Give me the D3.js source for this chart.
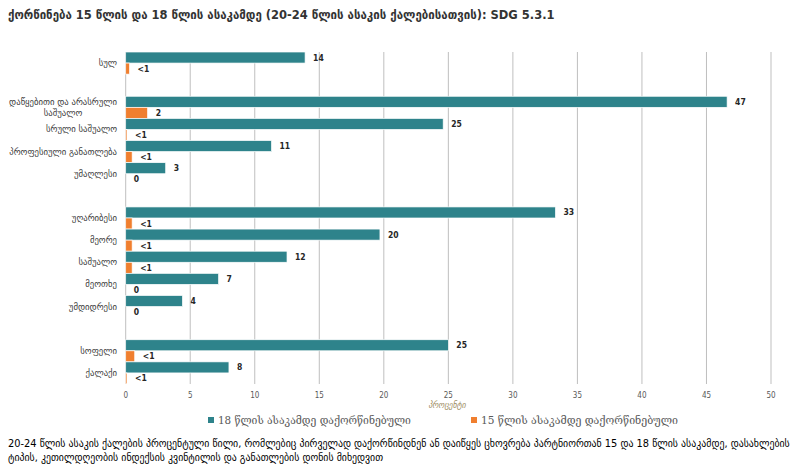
<!DOCTYPE html>
<html>
<head>
<meta charset="utf-8">
<script src="https://cdn.jsdelivr.net/npm/d3@7"></script>
<style>
  body { margin: 0; background: #fff; }
  svg { display: block; }
</style>
</head>
<body>
<script>
// data
const categories = ['სულ', '', 'დაწყებითი და არასრული|საშუალო', 'სრული საშუალო', 'პროფესიული განათლება', 'უმაღლესი', '',
  'უღარიბესი', 'მეორე', 'საშუალო', 'მეოთხე', 'უმდიდრესი', '', 'სოფელი', 'ქალაქი']
const married18 = [13.9, null, 46.6, 24.6, 11.3, 3.1, null, 33.3, 19.7, 12.5, 7.2, 4.4, null, 25.0, 8.0]
const married15 = [0.3, null, 1.7, 0.1, 0.5, 0, null, 0.5, 0.5, 0.5, 0, 0, null, 0.7, 0.1]
const labels18 = ['14', '', '47', '25', '11', '3', '', '33', '20', '12', '7', '4', '', '25', '8']
const labels15 = ['<1', '', '2', '<1', '<1', '0', '', '<1', '<1', '<1', '0', '0', '', '<1', '<1']
const xTicks = [0, 5, 10, 15, 20, 25, 30, 35, 40, 45, 50]
const seriesNames = ['18 წლის ასაკამდე დაქორწინებული', '15 წლის ასაკამდე დაქორწინებული']

const title = 'ქორწინება 15 წლის და 18 წლის ასაკამდე (20-24 წლის ასაკის ქალებისათვის): SDG 5.3.1'
const note = ['20-24 წლის ასაკის ქალების პროცენტული წილი, რომლებიც პირველად დაქორწინდნენ ან დაიწყეს ცხოვრება პარტნიორთან 15 და 18 წლის ასაკამდე, დასახლების',
  'ტიპის, კეთილდღეობის ინდექსის კვინტილის და განათლების დონის მიხედვით']

let w = 800
let h = 468
let teal = '#2e838b'
let orange = '#f07f2f'
let font = 'DejaVu Sans Condensed, DejaVu Sans, sans-serif'

let svg = d3.select('body').append('svg').attr('width', w).attr('height', h)

// shrink/grow a text so it spans a given width
function fit(sel, target) {
  let node = sel.node()
  let fs = parseFloat(sel.attr('font-size'))
  let len = node.getComputedTextLength()
  if (len > 0) sel.attr('font-size', (fs * target / len).toFixed(2))
}

let x = d3.scaleLinear().domain([0, 50]).range([125.7, 771])
let y = d3.scaleBand().domain(d3.range(categories.length)).range([52, 384]).padding(0)
let sub = d3.scaleBand().domain([0, 1]).range([0, y.bandwidth()])

// gridlines
svg.append('g').selectAll('line')
  .data(xTicks)
  .enter()
  .append('line')
  .attr('x1', d => x(d)).attr('x2', d => x(d))
  .attr('y1', 52).attr('y2', 384)
  .attr('stroke', '#bfbfbf').attr('stroke-width', 1)

// tick labels
svg.append('g').selectAll('text')
  .data(xTicks)
  .enter()
  .append('text')
  .attr('x', d => x(d)).attr('y', 398)
  .attr('text-anchor', 'middle')
  .attr('font-family', font).attr('font-size', 8).attr('fill', '#595959')
  .text(d => d)

svg.append('text').attr('x', 447).attr('y', 408).attr('text-anchor', 'middle')
  .attr('font-family', font).attr('font-size', 8.5).attr('font-style', 'italic')
  .attr('fill', '#9b8a5c').text('პროცენტი')

let rows = categories.map((c, i) => ({ i: i, cat: c, v18: married18[i], v15: married15[i], l18: labels18[i], l15: labels15[i] }))
  .filter(d => d.v18 !== null)

let g = svg.selectAll('g.row')
  .data(rows)
  .enter()
  .append('g')
  .attr('class', 'row')
  .attr('transform', d => 'translate(0,' + y(d.i) + ')')

g.append('rect')
  .attr('x', x(0)).attr('y', sub(0))
  .attr('width', d => x(d.v18) - x(0)).attr('height', sub.bandwidth())
  .attr('fill', teal).attr('stroke', '#fff').attr('stroke-width', 0.7)

g.append('rect')
  .attr('x', x(0)).attr('y', sub(1))
  .attr('width', d => x(d.v15) - x(0)).attr('height', sub.bandwidth())
  .attr('fill', orange).attr('stroke', '#fff').attr('stroke-width', 0.7)

g.append('text')
  .attr('x', d => x(d.v18) + 8).attr('y', sub(0) + sub.bandwidth() / 2 + 3)
  .attr('font-family', font).attr('font-size', 8.5).attr('font-weight', 'bold').attr('fill', '#262626')
  .text(d => d.l18)

g.append('text')
  .attr('x', d => x(d.v15) + 8).attr('y', sub(1) + sub.bandwidth() / 2 + 3)
  .attr('font-family', font).attr('font-size', 8.5).attr('font-weight', 'bold').attr('fill', '#262626')
  .text(d => d.l15)

// category labels, two-line ones centred like the spreadsheet does
g.each(function (d) {
  let lines = d.cat.split('|')
  let cy = y.bandwidth() / 2
  let t = d3.select(this).append('text')
    .attr('font-family', 'DejaVu Sans, sans-serif').attr('font-size', 8.7).attr('fill', '#404040')
  if (lines.length === 1) {
    t.attr('x', 117).attr('y', cy + 3).attr('text-anchor', 'end').text(lines[0])
  } else {
    t.attr('text-anchor', 'middle')
    lines.forEach((l, k) => {
      t.append('tspan').attr('y', cy + 3 + (k - (lines.length - 1) / 2) * 11).text(l)
    })
    let wmax = d3.max(t.selectAll('tspan').nodes(), n => n.getComputedTextLength())
    t.selectAll('tspan').attr('x', 117 - wmax / 2)
  }
})

// title
let tt = svg.append('text').attr('x', 8).attr('y', 19)
  .attr('font-family', font).attr('font-size', 15).attr('font-weight', 'bold').attr('fill', '#333')
  .text(title)
fit(tt, 547)

// legend
let legendX = [208, 471]
let legendW = [193, 197]
let colors = [teal, orange]
seriesNames.forEach((s, i) => {
  svg.append('rect').attr('x', legendX[i]).attr('y', 417).attr('width', 6).attr('height', 6).attr('fill', colors[i])
  let lt = svg.append('text').attr('x', legendX[i] + 10).attr('y', 424)
    .attr('font-family', 'DejaVu Serif, serif').attr('font-size', 11).attr('fill', '#595959')
    .text(s)
  fit(lt, legendW[i])
})

// note under the chart
let nt1 = svg.append('text').attr('x', 8).attr('y', 447)
  .attr('font-family', font).attr('font-size', 9.5).attr('fill', '#000').text(note[0])
fit(nt1, 782)
svg.append('text').attr('x', 8).attr('y', 461)
  .attr('font-family', font).attr('font-size', nt1.attr('font-size')).attr('fill', '#000').text(note[1])
</script>
</body>
</html>
